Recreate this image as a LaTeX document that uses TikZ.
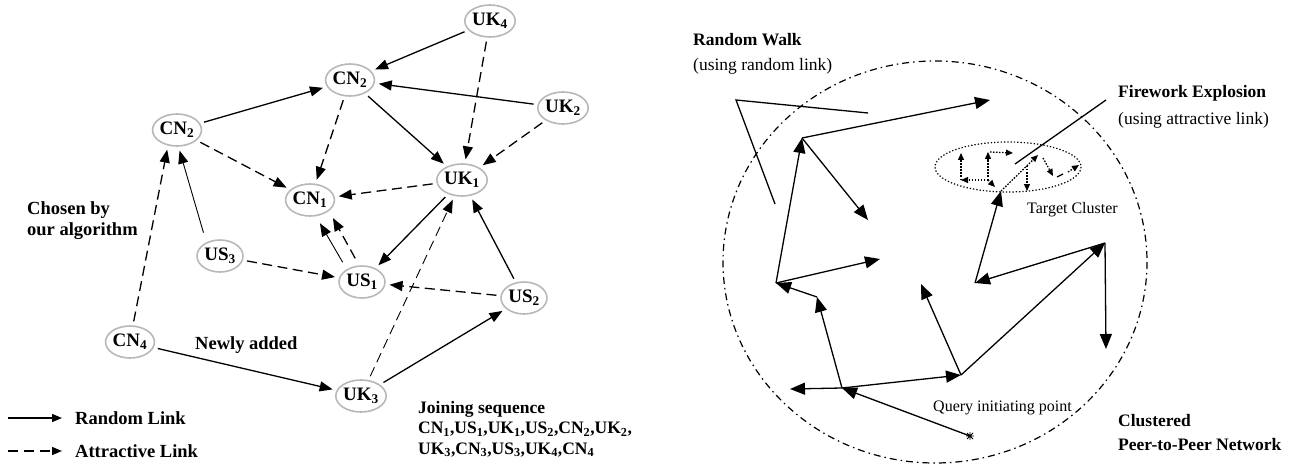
\documentclass[tikz,border=0pt]{standalone}
\usepackage{fontspec}
\setmainfont{Liberation Serif}
\usetikzlibrary{arrows.meta,shapes.geometric}
\begin{document}
\begin{tikzpicture}[x=1pt,y=-1pt,
  nd/.style={ellipse,draw=black!28,line width=1.6pt,minimum width=46pt,minimum height=32pt,inner sep=0pt,font=\fontsize{19}{21}\selectfont\bfseries},
  rl/.style={line width=1.3pt,-{Triangle[length=13pt,width=10pt]},shorten >=4pt,shorten <=4pt},
  al/.style={rl,dash pattern=on 10pt off 5.5pt},
  thin/.style={line width=0.9pt},
  lab/.style={font=\fontsize{18.5}{21}\selectfont\bfseries,inner sep=0pt,align=left,anchor=west},
  txt/.style={font=\fontsize{17.5}{26}\selectfont,inner sep=0pt,align=left,anchor=west},
  small/.style={font=\fontsize{16}{18}\selectfont,inner sep=0pt,anchor=west},
  rw/.style={line width=1.3pt,-{Triangle[length=15pt,width=12pt]}},
  plain/.style={line width=1.3pt},
  dt/.style={line width=1.3pt,dash pattern=on 1.5pt off 1.5pt,-{Triangle[length=7pt,width=6pt]}},
  legarrow/.style={line width=1.3pt,-{Triangle[length=10pt,width=8pt]}}
]
\useasboundingbox (0,0) rectangle (1296,468);

% ---------------- left graph ----------------
\node[nd] (uk4) at (490,21) {UK\textsubscript{4}};
\node[nd] (cnT) at (350,80) {CN\textsubscript{2}};
\node[nd] (uk2) at (563,108) {UK\textsubscript{2}};
\node[nd] (uk1) at (462,180) {UK\textsubscript{1}};
\node[nd] (cn1) at (310,200) {CN\textsubscript{1}};
\node[nd] (cnL) at (177,130) {CN\textsubscript{2}};
\node[nd] (us3) at (220,256) {US\textsubscript{3}};
\node[nd] (us1) at (362,282) {US\textsubscript{1}};
\node[nd] (us2) at (524,298) {US\textsubscript{2}};
\node[nd] (cn4) at (130,342) {CN\textsubscript{4}};
\node[nd] (uk3) at (361,396) {UK\textsubscript{3}};

% random links
\draw[rl] (cnL) -- (cnT);
\draw[rl] (uk4) -- (cnT);
\draw[rl] (uk2) -- (cnT);
\draw[rl] (cnT) -- (uk1);
\draw[rl,thin,shorten <=10pt] (us3.135) -- (cnL.-85);
\draw[rl,thin,shorten <=8pt,shorten >=8pt] (us1.140) -- (cn1.-70);
\draw[rl] (uk1) -- (us1);
\draw[rl] (us2) -- (uk1);
\draw[rl] (cn4) -- (uk3);
\draw[rl] (uk3) -- (us2);

% attractive links
\draw[al] (cn4.80) -- (cnL.240);
\draw[al] (cnL) -- (cn1);
\draw[al] (cnT) -- (cn1);
\draw[al] (uk4) -- (uk1);
\draw[al] (uk2) -- (uk1);
\draw[al] (uk1) -- (cn1);
\draw[al,shorten <=8pt,shorten >=8pt] (us1.100) -- (cn1.-30);
\draw[al] (us3) -- (us1);
\draw[al] (us2) -- (us1);
\draw[al,thin] (uk3) -- (uk1);

% labels
\node[lab,anchor=north west] (chosen) at (27,201) {Chosen by\\our algorithm};
\node[lab] (newly) at (195,345) {Newly added};

% legend
\coordinate (lgA1) at (8,418);
\coordinate (lgA2) at (62,418);
\coordinate (lgB1) at (8,451);
\coordinate (lgB2) at (62,451);
\draw[legarrow] (lgA1) -- (lgA2);
\draw[legarrow,dash pattern=on 10pt off 6pt] (lgB1) -- (lgB2);
\node[lab] (lgAt) at (75,418) {Random Link};
\node[lab] (lgBt) at (75,451) {Attractive Link};

\node[lab,anchor=north west,font=\fontsize{17.5}{20.5}\selectfont\bfseries] (join) at (418,401)
  {Joining sequence\\CN\textsubscript{1},US\textsubscript{1},UK\textsubscript{1},US\textsubscript{2},CN\textsubscript{2},UK\textsubscript{2},\\UK\textsubscript{3},CN\textsubscript{3},US\textsubscript{3},UK\textsubscript{4},CN\textsubscript{4}};

% ---------------- right figure ----------------
\draw[line width=1.2pt,dash pattern=on 7pt off 4pt on 1.5pt off 4pt] (935,262) ellipse [x radius=212,y radius=201];
\draw[line width=1.2pt,dash pattern=on 1.3pt off 2pt] (1008,167) ellipse [x radius=73,y radius=25];

\coordinate (Q) at (970,436);
\coordinate (P1) at (842,388);
\coordinate (L1) at (790,389);
\coordinate (P2) at (817,297);
\coordinate (P3) at (776,283);
\coordinate (R1) at (880,259);
\coordinate (P4) at (802,138);
\coordinate (R2) at (868,220);
\coordinate (R3) at (990,100);
\coordinate (P5) at (961,375);
\coordinate (R4) at (921,284);
\coordinate (P6) at (1105,243);
\coordinate (P7) at (975,283);
\coordinate (R5) at (1106,349);
\coordinate (E) at (1001,191);

\draw[rw] (Q) -- (P1);
\draw[rw] (P1) -- (L1);
\draw[rw] (P1) -- (P2);
\draw[rw] (P2) -- (P3);
\draw[rw] (P3) -- (R1);
\draw[rw] (P3) -- (P4);
\draw[rw] (P4) -- (R2);
\draw[rw] (P4) -- (R3);
\draw[rw] (P1) -- (P5);
\draw[rw] (P5) -- (R4);
\draw[rw] (P5) -- (P6);
\draw[rw] (P6) -- (P7);
\draw[rw] (P6) -- (R5);
\draw[rw] (P7) -- (E);

% query star
\draw[line width=0.8pt] ([shift={(-4,0)}]Q) -- ([shift={(4,0)}]Q)
  ([shift={(0,-4)}]Q) -- ([shift={(0,4)}]Q)
  ([shift={(-3,-3)}]Q) -- ([shift={(3,3)}]Q)
  ([shift={(-3,3)}]Q) -- ([shift={(3,-3)}]Q);

% firework explosion inside the cluster
\coordinate (A) at (988,180);
\coordinate (A1) at (988,152);
\coordinate (A2) at (1013,153);
\coordinate (B) at (961,180);
\coordinate (B1) at (961,153);
\coordinate (A3) at (995,187);
\coordinate (C) at (1038,155);
\coordinate (D0) at (1027,166);
\coordinate (D1) at (1027,191);
\coordinate (F1) at (1043,158);
\coordinate (F2) at (1053,176);
\coordinate (G1) at (1057,177);
\coordinate (G2) at (1063,174);
\coordinate (H1) at (1068,172);
\coordinate (H2) at (1079,165);
\draw[dt] (A) -- (A1);
\draw[dt] ([shift={(2,0)}]A1) -- (A2);
\draw[dt] (A) -- (B);
\draw[dt] (B) -- (B1);
\draw[dt] (A) -- (A3);
\draw[dt] (E) -- (C);
\draw[dt] (D0) -- (D1);
\draw[dt] (F1) -- (F2);
\draw[line width=1.3pt] (G1) -- (G2);
\draw[dt] (H1) -- (H2);

% pointer lines
\coordinate (rwa) at (868,113);
\coordinate (rwb) at (736,100);
\coordinate (rwc) at (775,204);
\draw[plain] (rwa) -- (rwb) -- (rwc);
\coordinate (fwa) at (1106,100);
\coordinate (fwb) at (1015,164);
\draw[plain] (fwa) -- (fwb);

% texts
\node[lab,font=\fontsize{17.5}{21}\selectfont\bfseries] (rwt) at (693,40) {Random Walk};
\node[txt] (rwt2) at (693,66) {(using random link)};
\node[lab,font=\fontsize{17.5}{21}\selectfont\bfseries] (fwt) at (1118,93) {Firework Explosion};
\node[txt] (fwt2) at (1118,120) {(using attractive link)};
\node[small] (tc) at (1027,210) {Target Cluster};
\node[small] (qi) at (933,408) {Query initiating point};
\node[lab,font=\fontsize{17.5}{21}\selectfont\bfseries] (cl1) at (1118,421) {Clustered};
\node[lab,font=\fontsize{17.5}{21}\selectfont\bfseries] (cl2) at (1118,445) {Peer-to-Peer Network};
\end{tikzpicture}
\end{document}
